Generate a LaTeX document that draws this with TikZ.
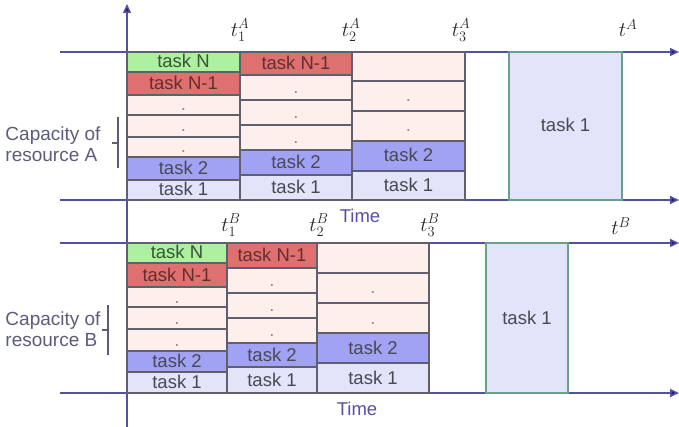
\documentclass[tikz,border=0pt]{standalone}
\usepackage{fontspec}
\setmainfont{Liberation Sans}
\usetikzlibrary{arrows.meta}

\definecolor{axisline}{RGB}{82,82,160}
\definecolor{axistip}{RGB}{30,30,120}
\definecolor{cellline}{RGB}{95,95,110}
\definecolor{bigline}{RGB}{105,160,140}
\definecolor{tasktext}{RGB}{72,72,84}
\definecolor{greenfill}{RGB}{172,240,160}
\definecolor{redfill}{RGB}{222,112,112}
\definecolor{pinkfill}{RGB}{253,239,236}
\definecolor{bluefill}{RGB}{162,162,245}
\definecolor{lightfill}{RGB}{226,229,250}
\definecolor{captext}{RGB}{92,92,125}
\definecolor{timetext}{RGB}{88,80,165}
\definecolor{dottext}{RGB}{150,140,140}

% a task cell given by its corners (x1,y1) and (x2,y2)
\newcommand\taskcell[7]{%
  \node[cell,#6,minimum width={(#4-#2)*1pt},minimum height={(#5-#3)*1pt}]
    (#1) at ({(#2+#4)/2},{(#3+#5)/2}) {#7};}

\begin{document}
\begin{tikzpicture}[x=1pt,y=-1pt,
  cell/.style={draw=cellline, line width=1.4pt, inner sep=0pt, outer sep=0pt,
    font=\fontsize{18.5}{20}\selectfont, text=tasktext, text height=13pt, text depth=1pt},
  tn/.style={fill=greenfill, text={rgb,255:red,55;green,85;blue,55}},
  tn1/.style={fill=redfill, text={rgb,255:red,100;green,45;blue,45}},
  dotc/.style={fill=pinkfill, text=dottext},
  t2/.style={fill=bluefill},
  t1/.style={fill=lightfill},
  big/.style={cell, draw=bigline, fill=lightfill},
  axis/.style={draw=axisline, line width=1.5pt},
  tip/.style={-{Triangle[length=9pt,width=8pt,fill=axistip]}},
  tlabel/.style={font=\fontsize{21}{23}\selectfont, text={rgb,255:red,40;green,40;blue,45}, inner sep=0pt},
  caplabel/.style={font=\fontsize{19}{21}\selectfont, text=captext, align=left, inner sep=0pt},
  timelabel/.style={font=\fontsize{18.5}{20}\selectfont, text=timetext, inner sep=0pt},
  brace/.style={draw=captext, line width=1.3pt}
]
\useasboundingbox[fill=white] (0,0) rectangle (679,427);

% axes
\coordinate (vb) at (127,427);
\coordinate (vt) at (127,4);
\foreach \n/\y in {a/52, b/200, c/243, d/393} {
  \coordinate (\n s) at (60,\y);
  \coordinate (\n e) at (679,\y);
  \draw[axis,tip] (\n s) -- (\n e);
}
\draw[axis,tip] (vb) -- (vt);

% resource A, first column
\taskcell{a11}{127}{52}{240}{72}{tn}{task N}
\taskcell{a12}{127}{72}{240}{95}{tn1}{task N-1}
\taskcell{a13}{127}{95}{240}{115}{dotc}{.}
\taskcell{a14}{127}{115}{240}{137}{dotc}{.}
\taskcell{a15}{127}{137}{240}{157}{dotc}{.}
\taskcell{a16}{127}{157}{240}{180}{t2}{task 2}
\taskcell{a17}{127}{180}{240}{200}{t1}{task 1}
% resource A, second column
\taskcell{a21}{240}{52}{352}{75}{tn1}{task N-1}
\taskcell{a22}{240}{75}{352}{100}{dotc}{.}
\taskcell{a23}{240}{100}{352}{125}{dotc}{.}
\taskcell{a24}{240}{125}{352}{150}{dotc}{.}
\taskcell{a25}{240}{150}{352}{175}{t2}{task 2}
\taskcell{a26}{240}{175}{352}{200}{t1}{task 1}
% resource A, third column
\taskcell{a31}{352}{52}{465}{81}{dotc}{}
\taskcell{a32}{352}{81}{465}{111}{dotc}{.}
\taskcell{a33}{352}{111}{465}{141}{dotc}{.}
\taskcell{a34}{352}{141}{465}{171}{t2}{task 2}
\taskcell{a35}{352}{171}{465}{200}{t1}{task 1}
% resource A, single task
\node[big,minimum width=113pt,minimum height=148pt] (abig) at (565.5,126) {task 1};

% resource B, first column
\taskcell{b11}{127}{243}{227}{263}{tn}{task N}
\taskcell{b12}{127}{263}{227}{287}{tn1}{task N-1}
\taskcell{b13}{127}{287}{227}{307}{dotc}{.}
\taskcell{b14}{127}{307}{227}{329}{dotc}{.}
\taskcell{b15}{127}{329}{227}{351}{dotc}{.}
\taskcell{b16}{127}{351}{227}{372}{t2}{task 2}
\taskcell{b17}{127}{372}{227}{393}{t1}{task 1}
% resource B, second column
\taskcell{b21}{227}{243}{317}{268}{tn1}{task N-1}
\taskcell{b22}{227}{268}{317}{293}{dotc}{.}
\taskcell{b23}{227}{293}{317}{318}{dotc}{.}
\taskcell{b24}{227}{318}{317}{343}{dotc}{.}
\taskcell{b25}{227}{343}{317}{367}{t2}{task 2}
\taskcell{b26}{227}{367}{317}{393}{t1}{task 1}
% resource B, third column
\taskcell{b31}{317}{243}{429}{273}{dotc}{}
\taskcell{b32}{317}{273}{429}{303}{dotc}{.}
\taskcell{b33}{317}{303}{429}{333}{dotc}{.}
\taskcell{b34}{317}{333}{429}{363}{t2}{task 2}
\taskcell{b35}{317}{363}{429}{393}{t1}{task 1}
% resource B, single task
\node[big,minimum width=82pt,minimum height=150pt] (bbig) at (527,318) {task 1};

% time marks
\node[tlabel] (tA1) at (240,30) {$t_1^A$};
\node[tlabel] (tA2) at (351,30) {$t_2^A$};
\node[tlabel] (tA3) at (461,30) {$t_3^A$};
\node[tlabel] (tA)  at (628,28) {$t^A$};
\node[tlabel] (tB1) at (231,225) {$t_1^B$};
\node[tlabel] (tB2) at (319,225) {$t_2^B$};
\node[tlabel] (tB3) at (430,225) {$t_3^B$};
\node[tlabel] (tB)  at (621,226) {$t^B$};

\node[timelabel] (timeA) at (360,216) {Time};
\node[timelabel] (timeB) at (357,409) {Time};

% capacity labels with brackets
\node[caplabel] (capA) at (53,144) {Capacity of\\resource A};
\coordinate (brA1) at (118,117);
\coordinate (brA2) at (118,168);
\coordinate (brAm) at (118,143);
\coordinate (brAt) at (112,143);
\draw[brace] (brA1) -- (brA2);
\draw[brace] (brAm) -- (brAt);

\node[caplabel] (capB) at (53,329) {Capacity of\\resource B};
\coordinate (brB1) at (108,305);
\coordinate (brB2) at (108,355);
\coordinate (brBm) at (108,330);
\coordinate (brBt) at (102,330);
\draw[brace] (brB1) -- (brB2);
\draw[brace] (brBm) -- (brBt);
\end{tikzpicture}
\end{document}
